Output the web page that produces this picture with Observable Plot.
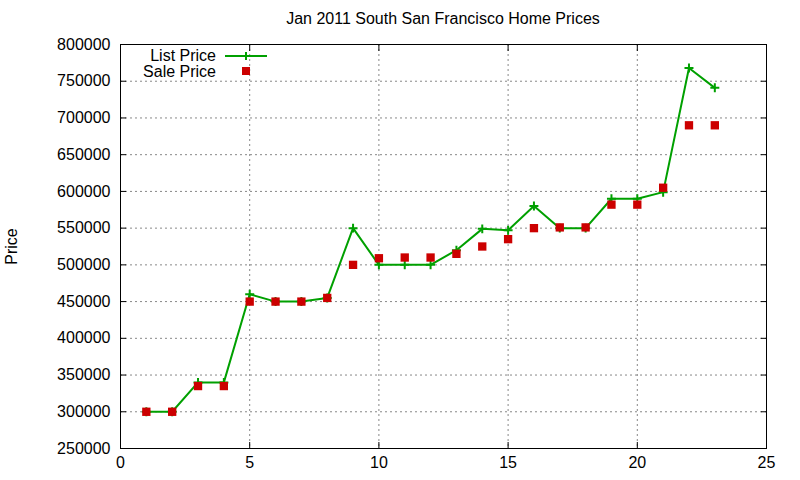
<!DOCTYPE html>
<html>
<head>
<meta charset="utf-8">
<script src="https://cdn.jsdelivr.net/npm/d3@7"></script>
<script src="https://cdn.jsdelivr.net/npm/@observablehq/plot@0.6"></script>
<style>
  html, body { margin: 0; padding: 0; background: #fff; }
  #wrap { position: relative; width: 800px; height: 480px; font-family: "Liberation Sans", Arial, sans-serif; }
  #title { position: absolute; left: 120px; width: 646px; top: 10px; text-align: center; font-size: 16px; color: #000; }
  #legend { position: absolute; left: 0; top: 0; }
</style>
</head>
<body>
<div id="wrap">
  <div id="chart"></div>
  <div id="title">Jan 2011 South San Francisco Home Prices</div>
  <svg id="legend" width="300" height="90"></svg>
</div>
<script>
const titleText = "Jan 2011 South San Francisco Home Prices";
const yLabel = "Price";
const seriesNames = ["List Price", "Sale Price"];
const days = [1,2,3,4,5,6,7,8,9,10,11,12,13,14,15,16,17,18,19,20,21,22,23];
const listPrice = [300000,300000,340000,340000,460000,450000,450000,455000,550000,500000,500000,500000,520000,549000,547000,580000,550000,550000,590000,590000,599000,768000,741000];
const salePrice = [300000,300000,335000,335000,450000,450000,450000,455000,500000,509000,510000,510000,515000,525000,535000,550000,551000,551000,582000,582000,605000,690000,690000];
const xTicks = [0,5,10,15,20,25];
const yTicks = [250000,300000,350000,400000,450000,500000,550000,600000,650000,700000,750000,800000];

const green = "#00a000";
const red = "#cc0000";

const listData = days.map((d, i) => ({x: d, y: listPrice[i]}));
const saleData = days.map((d, i) => ({x: d, y: salePrice[i]}));

const chart = Plot.plot({
  width: 800,
  height: 480,
  marginLeft: 120,
  marginRight: 34,
  marginTop: 44,
  marginBottom: 32,
  style: {fontFamily: "Liberation Sans, Arial, sans-serif", fontSize: "16px", color: "#000", background: "#fff"},
  x: {domain: [0, 25]},
  y: {domain: [250000, 800000]},
  marks: [
    Plot.gridX(xTicks.slice(1, -1), {stroke: "#888", strokeOpacity: 1, strokeDasharray: "2,3"}),
    Plot.gridY(yTicks.slice(1, -1), {stroke: "#888", strokeOpacity: 1, strokeDasharray: "2,3"}),
    Plot.axisX(xTicks, {anchor: "bottom", tickSize: -6, tickPadding: 14, fontSize: 16, label: null}),
    Plot.axisX(xTicks, {anchor: "top", tickSize: -6, text: null, label: null}),
    Plot.axisY(yTicks, {anchor: "left", tickSize: -6, tickPadding: 16, fontSize: 16, tickFormat: d => String(d), label: yLabel, labelAnchor: "center", labelArrow: "none", labelOffset: 115}),
    Plot.axisY(yTicks, {anchor: "right", tickSize: -6, text: null, label: null}),
    Plot.frame({stroke: "#000", strokeWidth: 1}),
    Plot.line(listData, {x: "x", y: "y", stroke: green, strokeWidth: 2}),
    Plot.dot(listData, {x: "x", y: "y", symbol: "plus", r: 3, stroke: green, strokeWidth: 2}),
    Plot.dot(saleData, {x: "x", y: "y", symbol: "square", r: 4.7, fill: red, stroke: "none"})
  ]
});
document.getElementById("chart").appendChild(chart);

// legend
const lg = d3.select("#legend");
lg.append("text").attr("x", 216).attr("y", 61).attr("text-anchor", "end")
  .attr("font-size", 16).attr("font-family", "Liberation Sans, Arial, sans-serif").text(seriesNames[0]);
lg.append("line").attr("x1", 225).attr("x2", 267).attr("y1", 56).attr("y2", 56)
  .attr("stroke", green).attr("stroke-width", 2);
lg.append("path").attr("d", "M242,56h8M246,52v8").attr("stroke", green).attr("stroke-width", 2);
lg.append("text").attr("x", 216).attr("y", 77).attr("text-anchor", "end")
  .attr("font-size", 16).attr("font-family", "Liberation Sans, Arial, sans-serif").text(seriesNames[1]);
lg.append("rect").attr("x", 242).attr("y", 67).attr("width", 8).attr("height", 8).attr("fill", red);
</script>
</body>
</html>
